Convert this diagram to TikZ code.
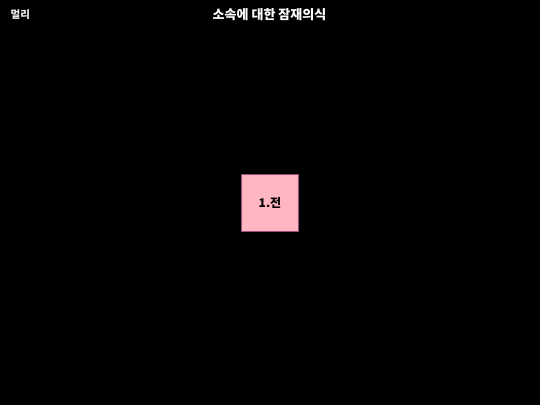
\documentclass[tikz,border=0pt]{standalone}
\usepackage{fontspec}
\newfontfamily\kr{Noto Sans CJK KR}
\definecolor{boxfill}{RGB}{255,182,193}
\definecolor{boxline}{RGB}{150,80,120}
\definecolor{lbl}{RGB}{235,235,235}
\begin{document}
\begin{tikzpicture}[x=1pt,y=-1pt,
  stepbox/.style={draw=boxline,line width=0.6pt,fill=boxfill,minimum width=57pt,minimum height=57pt,inner sep=0pt,font=\kr\bfseries\fontsize{12}{13}\selectfont,text=black}]
\fill[black] (0,0) rectangle (540,405);
\useasboundingbox (0,0) rectangle (540,405);
\node[font=\kr\bfseries\fontsize{13}{15}\selectfont,text=white] (title) at (269.5,15) {소속에 대한 잠재의식};
\node[font=\kr\bfseries\fontsize{10.5}{12}\selectfont,text=lbl,anchor=west,inner sep=0pt] (far) at (10.5,14.5) {멀리};
\node[stepbox] (s1) at (270,202.5) {1.전};
\end{tikzpicture}
\end{document}
